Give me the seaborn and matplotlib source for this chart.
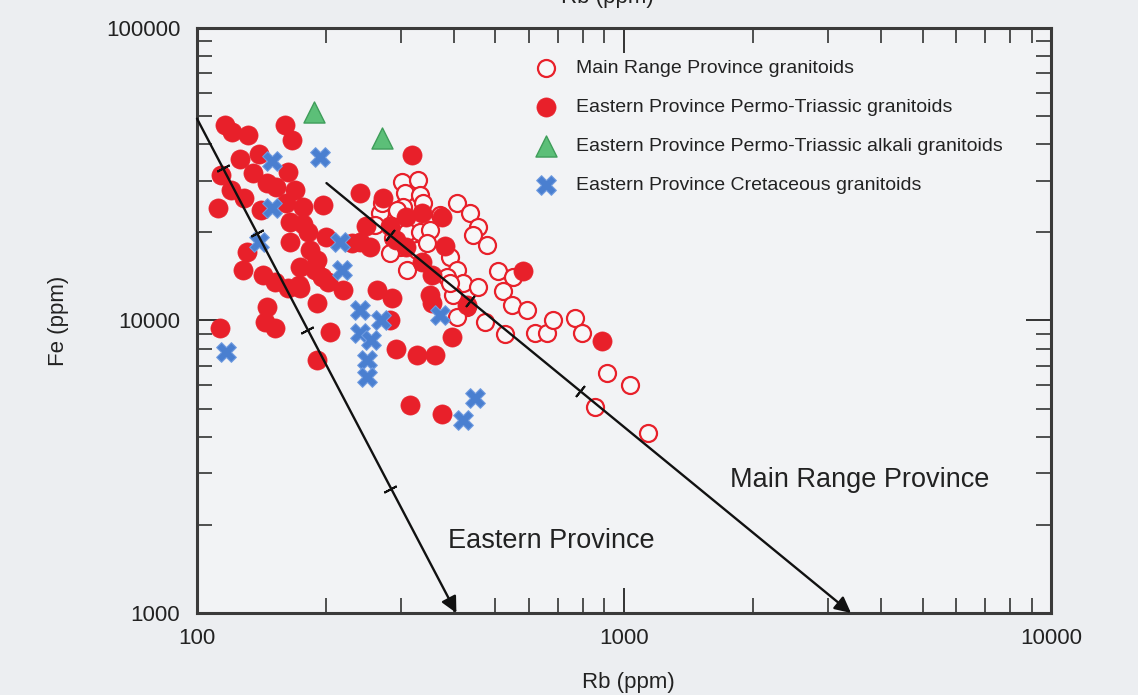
import numpy as np
import pandas as pd
import matplotlib
matplotlib.use('Agg')
import matplotlib.pyplot as plt
import matplotlib.ticker as mticker
import seaborn as sns

# Main Range Province granitoids (open circles)
main_range_rb = [302, 329, 307, 333, 304, 338, 268, 271, 294, 406, 436, 455, 443, 478, 310, 333, 351,
                 288, 299, 283, 327, 346, 310, 391, 406, 385, 420, 455, 398, 429, 507, 550, 521, 547,
                 593, 473, 526, 619, 660, 682, 768, 797, 912, 1033, 855, 1138, 406, 391, 371, 261]
main_range_fe = [29800, 30200, 27300, 26800, 24400, 25200, 23300, 25200, 23900, 25200, 23300, 20900,
                 19600, 18100, 20000, 20000, 20400, 19200, 17800, 17000, 17400, 18400, 14900, 16500,
                 14900, 14100, 13400, 13000, 12200, 11100, 14800, 14100, 12600, 11300, 10860, 9880,
                 8990, 9060, 9060, 10040, 10200, 9060, 6610, 6020, 5060, 4130, 10300, 13400, 22900, 21200]

# Eastern Province Permo-Triassic granitoids (filled circles)
permo_rb = [116, 121, 132, 161, 167, 140, 126, 114, 120, 129, 112, 141, 135, 146, 153, 163, 170, 162,
            177, 165, 177, 197, 200, 165, 182, 131, 128, 143, 152, 163, 174, 174, 191, 196, 203, 220,
            191, 146, 144, 152, 113, 205, 191, 241, 272, 249, 231, 254, 264, 286, 283, 293, 327, 361,
            396, 351, 355, 318, 309, 337, 375, 309, 337, 356, 428, 283, 293, 381, 241, 580, 890, 315,
            375, 173, 184, 189]
permo_fe = [46600, 44000, 43000, 46600, 41400, 37200, 35700, 31400, 27900, 26300, 24300, 23900, 31900,
            29500, 28600, 32200, 27900, 25300, 24500, 21700, 21400, 24800, 19300, 18500, 20000, 17200,
            14900, 14300, 13500, 12900, 15200, 12900, 16100, 14100, 13500, 12700, 11500, 11100, 9850,
            9400, 9400, 9120, 7330, 27300, 26300, 21000, 18400, 17800, 12700, 11900, 10040, 8000, 7620,
            7620, 8750, 12200, 11500, 36800, 22500, 23400, 22500, 17800, 15800, 14300, 11300, 21000,
            18800, 18000, 18500, 14800, 8500, 5140, 4790, 13200, 17400, 14900]

# Eastern Province Permo-Triassic alkali granitoids (triangles)
alkali_rb = [188, 271]
alkali_fe = [51600, 42000]

# Eastern Province Cretaceous granitoids (crosses)
cret_rb = [150, 194, 150, 140, 216, 218, 241, 270, 241, 256, 250, 250, 117, 371, 448, 419]
cret_fe = [35000, 36200, 24300, 18500, 18500, 14900, 10860, 10040, 9060, 8580, 7330, 6410, 7800,
           10440, 5430, 4570]

# trend arrows (start, end) and tick marks along them
east_line_rb = [100, 405]
east_line_fe = [49000, 1000]
east_ticks_rb = [115, 138, 181, 283]
east_ticks_fe = [33100, 19860, 9310, 2660]

main_line_rb = [201, 3400]
main_line_fe = [29500, 1000]
main_ticks_rb = [283, 436, 789]
main_ticks_fe = [19550, 11670, 5730]

labels = ['Main Range Province granitoids',
          'Eastern Province Permo-Triassic granitoids',
          'Eastern Province Permo-Triassic alkali granitoids',
          'Eastern Province Cretaceous granitoids']

sns.set_style('ticks')
plt.rcParams['font.family'] = ['Liberation Sans', 'DejaVu Sans']

fig = plt.figure(figsize=(11.38, 6.95), dpi=100, facecolor='#eceef1')
ax = fig.add_axes([0.1731, 0.118, 0.7505, 0.8417])
ax.set_facecolor('#f2f3f5')
ax.set_xscale('log')
ax.set_yscale('log')
ax.set_xlim(100, 10000)
ax.set_ylim(1000, 100000)

red = '#e8202a'
sns.scatterplot(x=main_range_rb, y=main_range_fe, ax=ax, marker='o', s=150, color=red,
                facecolor='#f7f7f8', edgecolor=red, linewidth=1.6, label=labels[0], zorder=3)
sns.scatterplot(x=permo_rb, y=permo_fe, ax=ax, marker='o', s=190, color=red,
                edgecolor=red, linewidth=0.5, label=labels[1], zorder=4)
sns.scatterplot(x=alkali_rb, y=alkali_fe, ax=ax, marker='^', s=230, color='#5cbf78',
                edgecolor='#3f9d5a', linewidth=1.0, label=labels[2], zorder=5)
sns.scatterplot(x=cret_rb, y=cret_fe, ax=ax, marker='X', s=200, color='#4a7fd0',
                edgecolor='#6f9be0', linewidth=0.8, label=labels[3], zorder=5)

# trend arrows
for lrb, lfe in [(east_line_rb, east_line_fe), (main_line_rb, main_line_fe)]:
    ax.annotate('', xy=(lrb[1], lfe[1]), xytext=(lrb[0], lfe[0]),
                arrowprops=dict(arrowstyle='-|>', color='#111111', lw=1.7,
                                mutation_scale=24, shrinkA=0, shrinkB=0), zorder=6)

# small cross ticks on the trend lines
for lrb, lfe, trb, tfe in [(east_line_rb, east_line_fe, east_ticks_rb, east_ticks_fe),
                           (main_line_rb, main_line_fe, main_ticks_rb, main_ticks_fe)]:
    p0 = ax.transData.transform((lrb[0], lfe[0]))
    p1 = ax.transData.transform((lrb[1], lfe[1]))
    ang = np.degrees(np.arctan2(p1[1] - p0[1], p1[0] - p0[0]))
    ax.plot(trb, tfe, linestyle='none', marker=(2, 2, ang), markersize=10,
            markeredgewidth=1.4, color='#111111', zorder=6)

ax.text(1772, 2850, 'Main Range Province', fontsize=19.5, color='#222222', va='center', ha='left')
ax.text(387, 1762, 'Eastern Province', fontsize=19.5, color='#222222', va='center', ha='left')

# axes styling
for sp in ax.spines.values():
    sp.set_color('#3a3a3a')
    sp.set_linewidth(2.2)
ax.xaxis.set_major_locator(mticker.FixedLocator([100, 1000, 10000]))
ax.yaxis.set_major_locator(mticker.FixedLocator([1000, 10000, 100000]))
ax.xaxis.set_minor_locator(mticker.LogLocator(base=10, subs=np.arange(2, 10)))
ax.yaxis.set_minor_locator(mticker.LogLocator(base=10, subs=np.arange(2, 10)))
fmt = mticker.FuncFormatter(lambda v, pos: f'{int(round(v))}')
ax.xaxis.set_major_formatter(fmt)
ax.yaxis.set_major_formatter(fmt)
ax.xaxis.set_minor_formatter(mticker.NullFormatter())
ax.yaxis.set_minor_formatter(mticker.NullFormatter())
ax.tick_params(which='both', direction='in', top=True, right=True, colors='#333333',
               labelcolor='#222222', labelsize=16)
ax.tick_params(which='major', length=18, width=1.4)
ax.tick_params(which='minor', length=11, width=1.2)
ax.tick_params(axis='x', which='major', pad=11)
ax.tick_params(axis='y', which='major', pad=12)

ax.set_xlabel('Rb (ppm)', fontsize=16, color='#222222')
ax.set_ylabel('Fe (ppm)', fontsize=16, color='#222222')
ax.xaxis.set_label_coords(0.505, -0.101)
ax.yaxis.set_label_coords(-0.150, 0.5)

# top label, clipped by the figure edge
fig.text(0.534, 0.9885, 'Rb (ppm)', fontsize=16, color='#222222', ha='center', va='bottom')

leg = ax.legend(loc='upper left', bbox_to_anchor=(0.397, 0.947), frameon=False, fontsize=14,
                handlelength=1.0, handletextpad=1.05, labelspacing=1.1, borderpad=0,
                borderaxespad=0)
for t in leg.get_texts():
    t.set_color('#222222')

fig.savefig('out.png', dpi=100, facecolor=fig.get_facecolor())
